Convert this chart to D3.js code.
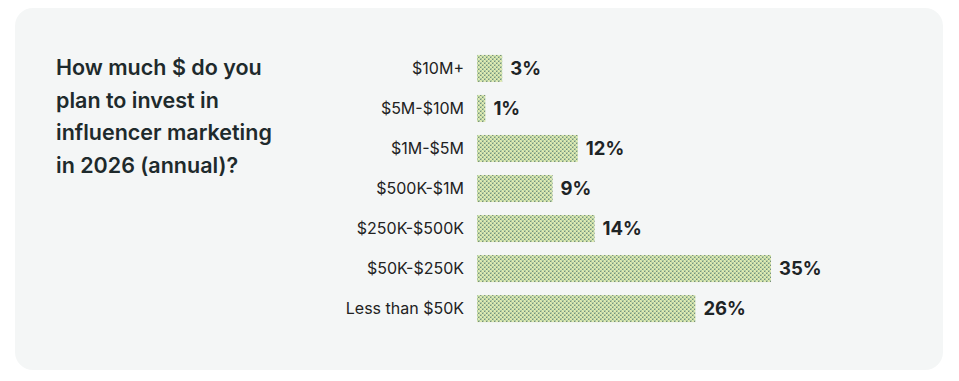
<!DOCTYPE html>
<html><head><meta charset="utf-8">
<script src="https://cdn.jsdelivr.net/npm/d3@7"></script>
<style>
html,body{margin:0;padding:0;background:#fff;}
svg{display:block;font-family:Inter,"Noto Sans",sans-serif;}
</style></head>
<body>
<svg id="chart" width="959" height="381"></svg>
<script>
const categories = ["$10M+","$5M-$10M","$1M-$5M","$500K-$1M","$250K-$500K","$50K-$250K","Less than $50K"];
const values = [3,1,12,9,14,35,26];
const titleLines = ["How much $ do you","plan to invest in","influencer marketing","in 2026 (annual)?"];

const svg = d3.select("#chart");
svg.append("rect").attr("x",15).attr("y",8).attr("width",928).attr("height",362)
  .attr("rx",18).attr("fill","#f4f6f6");

// pattern
const defs = svg.append("defs");
const pat = defs.append("pattern").attr("id","hatch").attr("patternUnits","userSpaceOnUse")
  .attr("width",4).attr("height",4);
const Y="#e0eab2", G="#abc9a2", D="#7b8e77", L="#cbdeaa";
const grid = [
  [Y,L,G,G],
  [Y,Y,D,G],
  [G,G,Y,L],
  [D,G,Y,Y]
];
grid.forEach((row,r)=>row.forEach((c,ci)=>{
  pat.append("rect").attr("x",ci).attr("y",r).attr("width",1).attr("height",1).attr("fill",c);
}));

// title
const t = svg.append("text").attr("x",56).attr("y",75).attr("fill","#1e2a2c")
  .attr("font-size",21.5).attr("font-weight",600);
titleLines.forEach((l,i)=>t.append("tspan").attr("x",56).attr("y",75+i*32.5).text(l));

const x = d3.scaleLinear().domain([0,35]).range([477,771]);
const y = d3.scaleBand().domain(categories).range([48.5,328.5]).paddingInner(0.325).paddingOuter(0.16);

svg.selectAll("rect.bar").data(values).join("rect").attr("class","bar")
  .attr("x",x(0)).attr("y",(d,i)=>y(categories[i]))
  .attr("width",d=>x(d)-x(0)).attr("height",y.bandwidth())
  .attr("fill","url(#hatch)");

svg.selectAll("text.cat").data(categories).join("text").attr("class","cat")
  .attr("x",464).attr("y",d=>y(d)+y.bandwidth()/2).attr("dy","0.35em")
  .attr("text-anchor","end").attr("font-size",16).attr("fill","#222").text(d=>d);

svg.selectAll("text.val").data(values).join("text").attr("class","val")
  .attr("x",d=>x(d)+8).attr("y",(d,i)=>y(categories[i])+y.bandwidth()/2).attr("dy","0.35em")
  .attr("font-size",18.5).attr("font-weight",700).attr("fill","#1e2426").text(d=>d+"%");
</script>
</body></html>
